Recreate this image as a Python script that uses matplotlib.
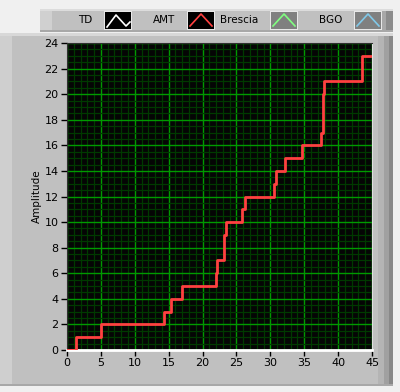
import matplotlib
matplotlib.use("Agg")
import matplotlib.pyplot as plt
from matplotlib.patches import Rectangle
from matplotlib.lines import Line2D

# step positions (time) and amplitude reached at each step
step_x = [0, 1.3, 5.0, 14.35, 15.3, 17.0, 22.0, 22.15, 23.1, 23.4, 25.8, 26.2,
          30.6, 30.9, 32.2, 34.7, 37.5, 37.7, 37.95, 43.55, 45]
step_y = [0, 1, 2, 3, 4, 5, 6, 7, 9, 10, 11, 12,
          13, 14, 15, 16, 17, 20, 21, 23, 23]

x_ticks = list(range(0, 46, 5))
y_ticks = list(range(0, 25, 2))

legend_names = ["TD", "AMT", "Brescia", "BGO"]
legend_colors = ["#ffffff", "#ff4040", "#80ff80", "#80c8e8"]
legend_bg = ["#000000", "#000000", "#808080", "#808080"]

W, H = 400, 392
fig = plt.figure(figsize=(W / 100, H / 100), dpi=100)
fig.patch.set_facecolor("#f0f0f0")


def px(x, y):
    return x / W, 1 - y / H


def rect(x0, y0, x1, y1, color, z=0):
    fx, fy = px(x0, y1)
    fig.add_artist(Rectangle((fx, fy), (x1 - x0) / W, (y1 - y0) / H,
                             transform=fig.transFigure, facecolor=color,
                             edgecolor="none", zorder=z))


# main panel and frame
rect(0, 33, 393, 386, "#c0c0c0")
rect(0, 33, 393, 36, "#d8d8d8")
rect(0, 36, 12, 386, "#cfcfcf")
rect(378, 36, 384, 386, "#b4b4b4")
rect(384, 36, 389, 386, "#a0a0a0")
rect(389, 36, 393, 386, "#888888")
rect(0, 384, 393, 386, "#a8a8a8")

# legend bar
rect(40, 9, 393, 32, "#c0c0c0")
rect(40, 9, 393, 11, "#dcdcdc")
rect(40, 11, 52, 32, "#d0d0d0")
rect(380, 11, 386, 32, "#a8a8a8")
rect(386, 11, 393, 32, "#8c8c8c")
rect(40, 30, 393, 32, "#a8a8a8")

text_right = [92, 175, 258, 342]
swatch_left = [104, 187, 270, 354]
for name, col, bg, tr, sl in zip(legend_names, legend_colors, legend_bg,
                                 text_right, swatch_left):
    tx, ty = px(tr, 20)
    fig.text(tx, ty, name, ha="right", va="center", fontsize=7.5, color="black")
    rect(sl, 11, sl + 28, 30, "#e8e8e8", z=1)
    rect(sl + 1, 12, sl + 27, 29, bg, z=2)
    if name == "TD":
        xs = [sl + 3, sl + 12, sl + 22, sl + 26]
        ys = [27, 15, 26, 22]
    else:
        xs = [sl + 3, sl + 14, sl + 25]
        ys = [26, 14, 26]
    pts = [px(a, b) for a, b in zip(xs, ys)]
    fig.add_artist(Line2D([p[0] for p in pts], [p[1] for p in pts],
                          transform=fig.transFigure, color=col, lw=1.2, zorder=3))

# plot area
l, b = px(67, 350)
r, t = px(372, 43)
ax = fig.add_axes([l, b, r - l, t - b])
ax.set_facecolor("#050505")
ax.set_xlim(0, 45)
ax.set_ylim(0, 24)
ax.set_xticks(x_ticks)
ax.set_yticks(y_ticks)
ax.set_xticks([v for v in range(0, 46)], minor=True)
ax.set_yticks([v * 0.5 for v in range(0, 49)], minor=True)
ax.grid(which="minor", color="#003a00", lw=0.9)
ax.grid(which="major", color="#009a00", lw=1.0)
ax.tick_params(which="minor", length=0)
ax.tick_params(which="major", length=4, width=1, color="black",
               labelsize=8, pad=2)
for s in ["left", "top"]:
    ax.spines[s].set_color("#303030")
ax.spines["right"].set_color("#e0e0e0")
ax.spines["bottom"].set_color("#ffffff")
ax.spines["bottom"].set_linewidth(2)
ax.set_axisbelow(True)

ax.step(step_x, step_y, where="post", color="#ff4040", lw=2.0, zorder=3)

ax.set_ylabel("Amplitude", fontsize=7.5, labelpad=2)

fig.savefig("out.png", dpi=100, facecolor=fig.get_facecolor())
